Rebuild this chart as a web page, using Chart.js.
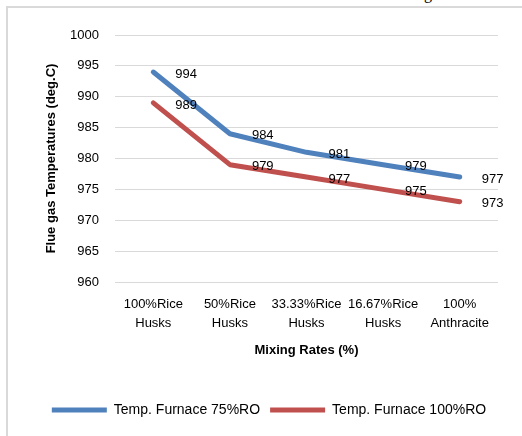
<!DOCTYPE html>
<html lang="en">
<head>
    <meta charset="UTF-8">
    <title>Flue gas temperatures</title>
    <style>
        body {
            margin: 0;
            background: #ffffff;
            font-family: "Liberation Sans", Arial, sans-serif;
        }

        #wrap {
            position: relative;
            width: 522px;
            height: 436px;
            overflow: hidden;
        }

        #frame {
            position: absolute;
            left: 6px;
            top: 6px;
            width: 600px;
            height: 500px;
            border-left: 2px solid #d9d9d9;
            border-top: 2px solid #d9d9d9;
        }

        #cut {
            position: absolute;
            left: 424px;
            top: -14px;
            font: 16px/16px "Liberation Serif", serif;
            color: #000;
        }

        canvas {
            position: absolute;
            left: 0;
            top: 0;
        }
    </style>
    <script src="https://cdn.jsdelivr.net/npm/chart.js"></script>
</head>
<body>
<div id="wrap">
    <div id="frame"></div>
    <div id="cut">g</div>
    <canvas id="tempChart" width="522" height="436"></canvas>
</div>
<script>
    const categories = [
        ['100%Rice', 'Husks'],
        ['50%Rice', 'Husks'],
        ['33.33%Rice', 'Husks'],
        ['16.67%Rice', 'Husks'],
        ['100%', 'Anthracite']
    ];
    const furnace75 = [994, 984, 981, 979, 977];
    const furnace100 = [989, 979, 977, 975, 973];
    const yTicks = [960, 965, 970, 975, 980, 985, 990, 995, 1000];

    const blue = '#4f81bd';
    const red = '#c0504d';
    const font = 'Liberation Sans';

    // value labels to the right of each point, like the spreadsheet
    const valueLabels = {
        id: 'valueLabels',
        afterDatasetsDraw(chart) {
            const ctx = chart.ctx;
            ctx.save();
            ctx.font = '13px "' + font + '"';
            ctx.fillStyle = '#000';
            ctx.textAlign = 'left';
            ctx.textBaseline = 'middle';
            chart.data.datasets.forEach((ds, i) => {
                chart.getDatasetMeta(i).data.forEach((pt, j) => {
                    ctx.fillText(ds.data[j], pt.x + 22, pt.y + 2);
                });
            });
            ctx.restore();
        }
    };

    const ctx = document.getElementById('tempChart').getContext('2d');
    new Chart(ctx, {
        type: 'line',
        data: {
            labels: categories,
            datasets: [{
                label: 'Temp. Furnace 75%RO',
                data: furnace75,
                borderColor: blue,
                backgroundColor: blue,
                borderWidth: 5,
                borderCapStyle: 'round',
                borderJoinStyle: 'round',
                pointRadius: 0,
                tension: 0
            }, {
                label: 'Temp. Furnace 100%RO',
                data: furnace100,
                borderColor: red,
                backgroundColor: red,
                borderWidth: 5,
                borderCapStyle: 'round',
                borderJoinStyle: 'round',
                pointRadius: 0,
                tension: 0
            }]
        },
        options: {
            responsive: false,
            animation: false,
            layout: {
                padding: {left: 40, right: 24, top: 35, bottom: 9}
            },
            plugins: {
                tooltip: {enabled: false},
                legend: {
                    position: 'bottom',
                    labels: {
                        usePointStyle: true,
                        pointStyle: 'line',
                        pointStyleWidth: 55,
                        color: '#000',
                        padding: 10,
                        font: {family: font, size: 14}
                    }
                }
            },
            scales: {
                x: {
                    offset: true,
                    afterFit(scale) { scale.height = 111; },
                    grid: {display: false, drawTicks: false},
                    border: {display: false},
                    ticks: {
                        color: '#000',
                        padding: 13,
                        maxRotation: 0,
                        autoSkip: false,
                        font: {family: font, size: 13, lineHeight: 1.46}
                    },
                    title: {
                        display: true,
                        text: 'Mixing Rates (%)',
                        color: '#000',
                        padding: {top: 4, bottom: 35},
                        font: {family: font, size: 13, weight: 'bold'}
                    }
                },
                y: {
                    min: 960,
                    max: 1000,
                    afterFit(scale) { scale.width = 75; },
                    afterBuildTicks(scale) {
                        scale.ticks = yTicks.map(v => ({value: v}));
                    },
                    grid: {color: '#d9d9d9', lineWidth: 1, drawTicks: false},
                    border: {display: false},
                    ticks: {
                        color: '#000',
                        padding: 16,
                        font: {family: font, size: 13},
                        callback: v => String(v)
                    },
                    title: {
                        display: true,
                        text: 'Flue gas Temperatures (deg.C)',
                        color: '#000',
                        font: {family: font, size: 13, weight: 'bold'}
                    }
                }
            }
        },
        plugins: [valueLabels]
    });
</script>
</body>
</html>
